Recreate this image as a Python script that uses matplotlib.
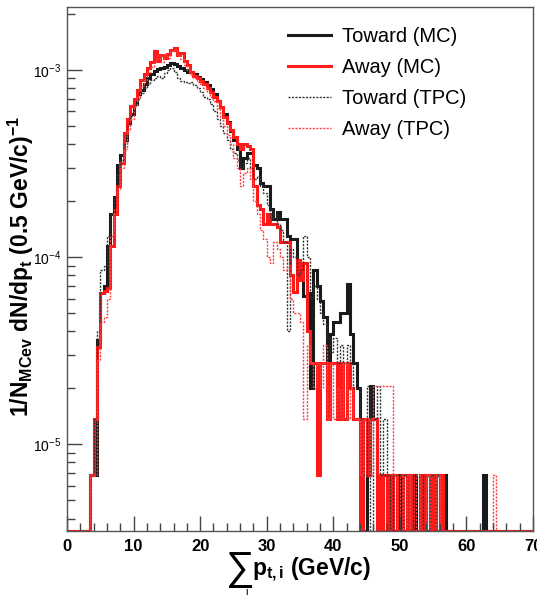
import numpy as np
import matplotlib
matplotlib.use("Agg")
import matplotlib.pyplot as plt
from matplotlib.ticker import MultipleLocator, LogLocator, LogFormatterMathtext, NullFormatter

plt.rcParams['font.family'] = ['Liberation Sans', 'DejaVu Sans']
plt.rcParams['mathtext.fontset'] = 'custom'
plt.rcParams['mathtext.rm'] = 'Liberation Sans'
plt.rcParams['mathtext.bf'] = 'Liberation Sans:bold'
plt.rcParams['mathtext.it'] = 'Liberation Sans:italic'

# histogram: 0.5 GeV/c bins from 0 to 70, values in units of 1e-5
bin_width = 0.5
first_bin = 3.5      # first filled bin (left edge)
# bins 3.5 ... 43.5
toward_mc = [0.68, 0.68, 3.6, 6.4, 7.0, 11.5, 17, 21, 31, 35,
             42, 52, 58, 66, 74, 78, 84, 90, 95, 99,
             101, 103, 104, 106, 109, 107, 105, 102, 100, 98,
             97, 95, 92, 89, 86, 83, 79, 74, 68, 63,
             58, 53, 47, 42, 38, 30, 34, 36, 36, 31,
             30, 25, 24, 24, 18, 16, 17.5, 16, 16, 13,
             12.5, 12.5, 9.6, 8.5, 6.2, 6.4, 2.0, 8.5, 7.0, 5.8,
             4.8, 2.0, 3.9, 4.5, 4.5, 5.0, 5.0, 7.2, 3.9, 2.7, 2.0]
away_mc = [0.68, 1.36, 3.3, 6.4, 6.6, 6.8, 11.5, 17, 24, 32,
           46, 55, 64, 70, 78, 88, 95, 102, 110, 126,
           112, 120, 116, 122, 128, 131, 120, 123, 112, 106,
           98, 93, 90, 87, 84, 80, 76, 72, 68, 63,
           56, 52, 48, 44, 40, 38, 40, 39, 38, 24,
           19, 18, 15, 17, 15, 15, 14.5, 12, 12, 12,
           8.0, 6.5, 9.6, 7.5, 9.3, 4.0, 2.7, 2.7, 0.68, 2.7,
           2.7, 1.36, 2.7, 2.7, 1.36, 2.7, 1.36, 2.7, 2.0, 1.36, 1.36]
toward_tpc = [0.68, 1.36, 4.0, 8.5, 9.0, 13, 17, 21, 28, 33,
              40, 50, 57, 64, 70, 75, 80, 84, 88, 90,
              93, 90, 96, 100, 103, 98, 90, 87, 86, 85,
              86, 83, 80, 76, 72, 70, 66, 60, 55, 50,
              46, 42, 38, 36, 33, 30, 32, 34, 30, 26,
              27, 24, 22, 19, 16, 17, 15, 14, 12, 4.0,
              11, 10, 8, 8.5, 13, 10, 6, 7, 6, 5,
              4.4, 3.7, 3.1, 3.7, 2.7, 3.4, 2.7, 3.4, 2.7, 2.0, 2.0]
away_tpc = [0.68, 0.68, 2.8, 4.5, 4.8, 6.0, 13, 18, 23, 30,
            38, 48, 55, 64, 72, 82, 88, 96, 104, 112,
            120, 110, 121, 116, 126, 128, 122, 114, 106, 100,
            94, 90, 86, 84, 80, 76, 72, 68, 62, 56,
            50, 45, 40, 34, 30, 24, 28, 30, 26, 20,
            17, 14, 12.5, 10, 9.3, 12, 11, 10, 8.5, 9,
            6, 5, 5, 4.5, 1.36, 3.4, 2.7, 2.0, 2.7, 2.0,
            3.4, 1.36, 2.7, 1.36, 2.0, 1.36, 2.7, 1.36, 2.0, 1.36, 1.36]

# bins 44.0 ... 65.0 (single entries)
toward_mc_tail = [1.36, 0, 1.36, 2.04, 1.36, 0.68, 0, 0.68, 0, 0.68,
                  0, 0.68, 0, 0, 0.68, 0, 0.68, 0, 0.68, 0,
                  0, 0.68, 0, 0.68, 0, 0.68, 0, 0, 0, 0,
                  0, 0, 0, 0, 0, 0, 0, 0.68, 0, 0,
                  0, 0, 0]
away_mc_tail = [0, 1.36, 0.68, 1.36, 1.36, 0, 0.68, 0, 0.68, 0,
                0.68, 0, 0, 0.68, 0, 0.68, 0, 0, 0.68, 0,
                0.68, 0, 0.68, 0, 0.68, 0, 0, 0, 0, 0,
                0, 0, 0, 0, 0, 0, 0, 0, 0, 0,
                0, 0, 0]
toward_tpc_tail = [1.36, 0.68, 2.04, 0, 1.36, 2.04, 0.68, 1.36, 0.68, 0,
                   0.68, 0.68, 0, 0.68, 0, 0, 0.68, 0.68, 0, 0.68,
                   0, 0.68, 0.68, 0, 0, 0, 0, 0, 0, 0,
                   0, 0, 0, 0, 0, 0, 0, 0, 0, 0,
                   0, 0, 0]
away_tpc_tail = [0.68, 1.36, 1.36, 0.68, 2.04, 2.04, 2.04, 2.04, 2.04, 2.04,
                 0.68, 0, 0.68, 0, 0.68, 0, 0, 0.68, 0, 0,
                 0.68, 0, 0, 0.68, 0, 0, 0, 0, 0, 0,
                 0, 0, 0, 0, 0, 0, 0, 0, 0, 0,
                 0.68, 0, 0]

labels = ['Toward (MC)', 'Away (MC)', 'Toward (TPC)', 'Away (TPC)']

ymin, ymax = 3.43e-6, 2.17e-3
edges = np.arange(0, 70 + bin_width / 2, bin_width)


def full_hist(main, tail):
    h = np.zeros(len(edges) - 1)
    i0 = int(round(first_bin / bin_width))
    vals = np.array(main + tail, dtype=float) * 1e-5
    h[i0:i0 + len(vals)] = vals
    # empty bins are drawn down to the axis like ROOT does
    h[h <= 0] = ymin
    return h


fig = plt.figure(figsize=(5.37, 5.97), dpi=100)
ax = fig.add_axes([67 / 537, 1 - 531 / 597, 466 / 537, 524 / 597])

ax.stairs(full_hist(toward_mc, toward_mc_tail), edges, color='#1a1a1a', lw=2.2, label=labels[0])
ax.stairs(full_hist(away_mc, away_mc_tail), edges, color='#ff1a1a', lw=2.2, label=labels[1])
ax.stairs(full_hist(toward_tpc, toward_tpc_tail), edges, color='#333333', lw=1.0,
          linestyle=(0, (1.5, 1.0)), label=labels[2])
ax.stairs(full_hist(away_tpc, away_tpc_tail), edges, color='#ff4040', lw=1.0,
          linestyle=(0, (1.5, 1.0)), label=labels[3])

ax.set_yscale('log')
ax.set_xlim(0, 70)
ax.set_ylim(ymin, ymax)

ax.xaxis.set_major_locator(MultipleLocator(10))
ax.xaxis.set_minor_locator(MultipleLocator(2))
ax.yaxis.set_major_locator(LogLocator(base=10))
ax.yaxis.set_minor_locator(LogLocator(base=10, subs=np.arange(2, 10)))
ax.yaxis.set_major_formatter(LogFormatterMathtext())
ax.yaxis.set_minor_formatter(NullFormatter())
ax.tick_params(which='both', direction='in', top=False, right=False, color='#444444')
ax.tick_params(which='major', length=11, width=1)
ax.tick_params(which='minor', length=5.5, width=1)
ax.tick_params(axis='x', labelsize=12, pad=6)
ax.tick_params(axis='y', labelsize=10, pad=4)
for t in ax.get_xticklabels():
    t.set_fontweight('bold')
for s in ax.spines.values():
    s.set_color('#555555')
    s.set_linewidth(1.0)

# axis titles
fig.text(21 / 537, 1 - 266 / 597,
         r'1/N$_{\mathbf{MCev}}$ dN/dp$_{\mathbf{t}}$ (0.5 GeV/c)$^{\mathbf{-1}}$',
         rotation=90, ha='center', va='center', fontsize=16.5, fontweight='bold')
fig.text(240 / 537, 1 - 569 / 597, '\u2211', ha='center', va='center', fontsize=29)
fig.text(247 / 537, 1 - 592 / 597, 'i', ha='center', va='center', fontsize=8)
fig.text(252 / 537, 1 - 570 / 597, r'$\mathbf{p_{t,i}}$ (GeV/c)',
         ha='left', va='center', fontsize=16.5, fontweight='bold')

ax.legend(loc='upper left', bbox_to_anchor=(288 / 537, 1 - 27 / 597),
          bbox_transform=fig.transFigure, frameon=False, fontsize=14.5,
          handlelength=2.15, handletextpad=0.55, labelspacing=0.6, borderpad=0,
          borderaxespad=0)

fig.savefig('out.png', dpi=100)
